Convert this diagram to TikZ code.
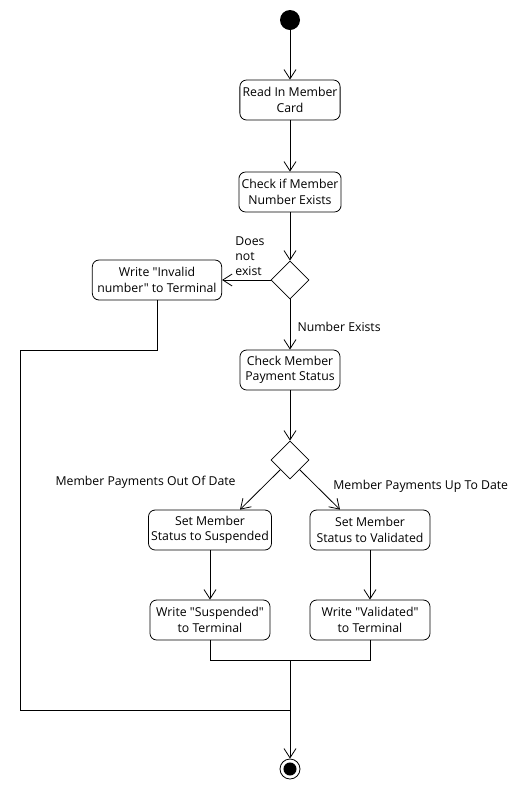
\documentclass[tikz,border=0pt]{standalone}
\usepackage{fontspec}
\setmainfont{Open Sans}[Ligatures=TeXOff]
\usepackage{tikz}
\usetikzlibrary{arrows.meta, shapes.geometric}

\begin{document}
\begin{tikzpicture}[x=0.75pt, y=-0.75pt, line width=0.6pt,
    font=\fontsize{9.2}{11.5}\selectfont,
    >={Straight Barb[length=7pt, width=9pt]},
    action/.style={draw, rounded corners=5pt, align=center, minimum height=30pt, inner sep=2pt},
    decision/.style={draw, diamond, aspect=1, inner sep=0pt, minimum width=28.5pt, minimum height=28.5pt}]
    \useasboundingbox (0,0) rectangle (530,790);

    % Start and end
    \node[circle, fill=black, inner sep=0pt, minimum size=15pt] (start) at (290,20) {};
    \node[circle, draw, inner sep=0pt, minimum size=15pt,
          path picture={\fill (path picture bounding box.center) circle (4.9pt);}] (finish) at (290,769) {};

    % Actions
    \node[action, minimum width=75pt] (read) at (290,100) {Read In Member\\Card};
    \node[action, minimum width=75pt] (check) at (290,192) {Check if Member\\Number Exists};
    \node[action, minimum width=97pt] (invalid) at (157,280) {Write "Invalid\\number" to Terminal};
    \node[action, minimum width=75pt] (payment) at (290,370) {Check Member\\Payment Status};
    \node[action, minimum width=90pt] (suspend) at (210,530) {Set Member\\Status to Suspended};
    \node[action, minimum width=90pt] (validate) at (370,530) {Set Member\\Status to Validated};
    \node[action, minimum width=90pt] (wsuspend) at (210,620) {Write "Suspended"\\to Terminal};
    \node[action, minimum width=90pt] (wvalidate) at (370,620) {Write "Validated"\\to Terminal};

    % Decisions
    \node[decision] (exists) at (290,280) {};
    \node[decision] (status) at (290,460) {};

    % Corners of the joins
    \coordinate (loopTop) at (20,350);
    \coordinate (loopBot) at (20,710);
    \coordinate (merge) at (290,710);
    \coordinate (join) at (290,660);

    % Flow
    \draw[->] (start) -- (read);
    \draw[->] (read) -- (check);
    \draw[->] (check) -- (exists);
    \draw[->] (exists.west) -- (invalid.east);
    \node[anchor=north west, align=left, inner sep=0pt] (notlbl) at (235,236) {Does\\not\\exist};
    \draw[->] (exists.south) -- (payment.north)
        node[pos=0.55, anchor=west, xshift=2pt] (yeslbl) {Number Exists};
    \draw[->] (payment) -- (status);
    \draw[->] (status.south west) -- ([xshift=22.5pt]suspend.north);
    \draw[->] (status.south east) -- ([xshift=-22.5pt]validate.north);
    \node[anchor=east, inner sep=0pt] (outlbl) at (236,482) {Member Payments Out Of Date};
    \node[anchor=west, inner sep=0pt] (uplbl) at (333,486) {Member Payments Up To Date};
    \draw[->] (suspend) -- (wsuspend);
    \draw[->] (validate) -- (wvalidate);

    % Merging back to the end
    \draw (wsuspend.south) -- ++(0,20) -| (wvalidate.south);
    \draw (invalid.south) |- (loopTop) -- (loopBot) -- (merge);
    \draw[->] (join) -- (finish);
\end{tikzpicture}
\end{document}
